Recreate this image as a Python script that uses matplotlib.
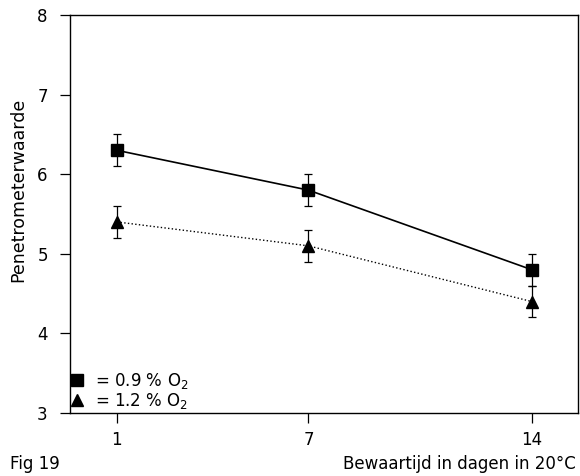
import numpy as np
import matplotlib.pyplot as plt
from matplotlib.lines import Line2D

plt.rcParams['font.family'] = ['DejaVu Sans']

days = [1, 7, 14]
o2_09 = [6.3, 5.8, 4.8]
o2_09_err = [0.2, 0.2, 0.2]
o2_12 = [5.4, 5.1, 4.4]
o2_12_err = [0.2, 0.2, 0.2]
labels = ['= 0.9 % O$_2$', '= 1.2 % O$_2$']

fig = plt.figure(figsize=(5.8, 4.76), dpi=100)
ax = fig.add_axes([0.1207, 0.1324, 0.8759, 0.8361])

ax.errorbar(days, o2_09, yerr=o2_09_err, fmt='s-', color='black', ms=8.5,
            lw=1.2, elinewidth=0.9, capsize=3, capthick=0.9)
ax.errorbar(days, o2_12, yerr=o2_12_err, fmt='^:', color='black', ms=9,
            lw=1.0, elinewidth=0.9, capsize=3, capthick=0.9)

ax.set_xlim(-0.47, 15.45)
ax.set_ylim(3, 8)
ax.set_xticks(days)
ax.set_yticks([3, 4, 5, 6, 7, 8])
ax.tick_params(direction='out', length=7, width=0.9, labelsize=12, pad=9)
ax.tick_params(axis='x', pad=6)
for s in ax.spines.values():
    s.set_linewidth(1.0)

ax.set_ylabel('Penetrometerwaarde', fontsize=12.5)
ax.yaxis.set_label_coords(-0.085, 0.56)

handles = [Line2D([], [], marker='s', ls='none', color='black', ms=8),
           Line2D([], [], marker='^', ls='none', color='black', ms=8)]
ax.legend(handles, labels, loc='lower left', frameon=False, fontsize=12,
          handlelength=0.6, handletextpad=0.8, labelspacing=0.0,
          borderaxespad=0.05, borderpad=0.05)

fig.text(0.017, 0.006, 'Fig 19', fontsize=12, ha='left', va='bottom')
fig.text(0.992, 0.006, 'Bewaartijd in dagen in 20°C', fontsize=12,
         ha='right', va='bottom')

fig.savefig('out.png')
